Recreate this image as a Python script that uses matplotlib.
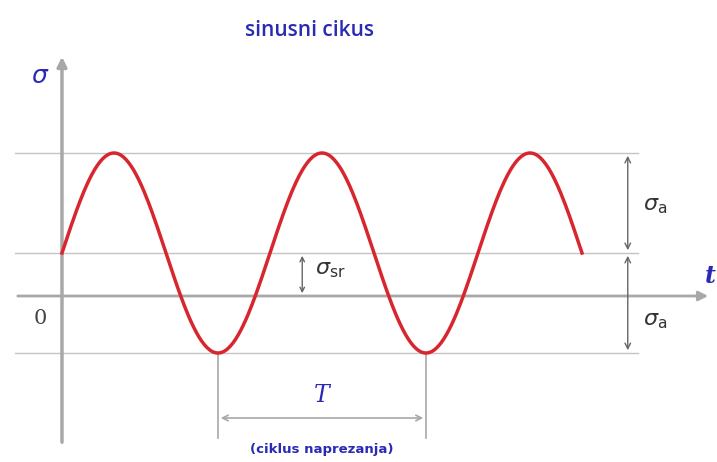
import numpy as np
import matplotlib.pyplot as plt

# cycle parameters (sigma in units of sigma_a, time in periods)
SIGMA_A = 1.0      # amplitude
SIGMA_M = 0.43     # mean stress
PERIOD = 1.0
N_CYCLES = 2.5

t = np.linspace(0, N_CYCLES * PERIOD, 400)
sigma = SIGMA_M + SIGMA_A * np.sin(2 * np.pi * t / PERIOD)

s_max = SIGMA_M + SIGMA_A
s_min = SIGMA_M - SIGMA_A

BLUE = '#2a2ab4'
GREY = '#a8a8a8'
RED = '#d8262e'

fig = plt.figure(figsize=(7.17, 4.62), dpi=100)
ax = fig.add_axes([0, 0, 1, 1])
ax.set_xlim(-0.298, 3.149)
ax.set_ylim(-1.66, 2.96)
ax.axis('off')

# guide lines
for yy in (s_max, SIGMA_M, s_min):
    ax.plot([-0.226, 2.77], [yy, yy], color='#c4c4c4', lw=1.0, zorder=1)

# axes with arrows
ax.annotate('', xy=(3.12, 0), xytext=(-0.226, 0),
            arrowprops=dict(arrowstyle='-|>', color=GREY, lw=2.0, mutation_scale=14))
ax.annotate('', xy=(0, 2.42), xytext=(0, -1.49),
            arrowprops=dict(arrowstyle='-|>', color=GREY, lw=2.5, mutation_scale=14))

# curve
ax.plot(t, sigma, color=RED, lw=2.5, zorder=3)

# period markers
t_trough1 = 0.75 * PERIOD
t_trough2 = t_trough1 + PERIOD
for tt in (t_trough1, t_trough2):
    ax.plot([tt, tt], [s_min, -1.42], color=GREY, lw=1.2)
ax.annotate('', xy=(t_trough2, -1.22), xytext=(t_trough1, -1.22),
            arrowprops=dict(arrowstyle='<->', color=GREY, lw=1.2))
ax.text((t_trough1 + t_trough2) / 2, -0.99, 'T', color=BLUE, fontsize=17,
        style='italic', family='DejaVu Serif', ha='center', va='center')
ax.text((t_trough1 + t_trough2) / 2, -1.54, '(ciklus naprezanja)', color=BLUE,
        fontsize=9.5, weight='bold', ha='center', va='center')

# amplitude arrows
xa = 2.72
ax.annotate('', xy=(xa, s_max), xytext=(xa, SIGMA_M),
            arrowprops=dict(arrowstyle='<->', color='#666666', lw=1.0))
ax.annotate('', xy=(xa, s_min), xytext=(xa, SIGMA_M),
            arrowprops=dict(arrowstyle='<->', color='#666666', lw=1.0))
ax.text(2.85, 0.9, r'$\sigma_{\rm a}$', fontsize=16, color='#333333', ha='center', va='center')
ax.text(2.85, -0.25, r'$\sigma_{\rm a}$', fontsize=16, color='#333333', ha='center', va='center')

# mean stress arrow
xm = 1.155
ax.annotate('', xy=(xm, SIGMA_M), xytext=(xm, 0),
            arrowprops=dict(arrowstyle='<->', color='#666666', lw=1.0, mutation_scale=8))
ax.text(1.29, 0.26, r'$\sigma_{\rm sr}$', fontsize=16, color='#333333', ha='center', va='center')

# labels
ax.text(-0.106, -0.22, '0', fontsize=15, color='#444444', family='DejaVu Serif',
        ha='center', va='center')
ax.text(-0.106, 2.2, r'$\sigma$', fontsize=18, color=BLUE, ha='center', va='center')
ax.text(3.115, 0.2, 't', fontsize=17, color=BLUE, style='italic', weight='bold',
        family='DejaVu Serif', ha='center', va='center')
ax.text(1.19, 2.66, 'sinusni cikus', fontsize=15, color=BLUE, weight='semibold',
        family='Open Sans', ha='center', va='center')

plt.savefig('out.png', dpi=100)
